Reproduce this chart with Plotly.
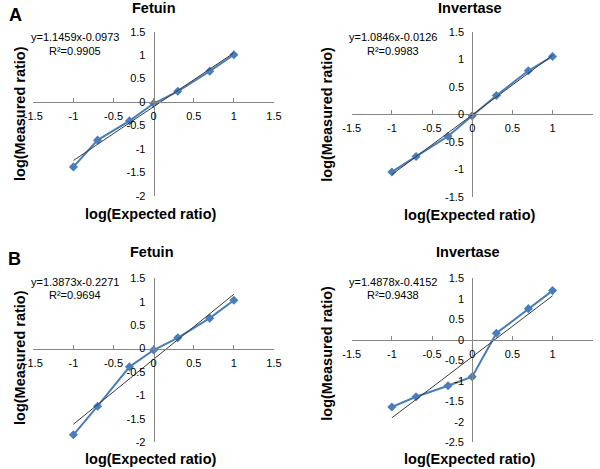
import plotly.graph_objects as go

W, H = 600, 469

# x values: log10 of expected ratios
expected_log = [-1, -0.699, -0.301, 0, 0.301, 0.699, 1]

fetuin_A = [-1.38, -0.81, -0.40, -0.03, 0.23, 0.66, 1.01]
invertase_A = [-1.05, -0.77, -0.40, -0.03, 0.34, 0.79, 1.05]
fetuin_B = [-1.84, -1.23, -0.39, -0.03, 0.23, 0.65, 1.03]
invertase_B = [-1.64, -1.39, -1.12, -0.90, 0.16, 0.76, 1.20]

slopes = [1.1459, 1.0846, 1.3873, 1.4878]
intercepts = [-0.0973, -0.0126, -0.2271, -0.4152]
eq_labels = ["y=1.1459x-0.0973", "y=1.0846x-0.0126", "y=1.3873x-0.2271", "y=1.4878x-0.4152"]
r2_labels = ["R²=0.9905", "R²=0.9983", "R²=0.9694", "R²=0.9438"]
titles = ["Fetuin", "Invertase", "Fetuin", "Invertase"]

x_tick_vals = [-1.5, -1, -0.5, 0, 0.5, 1, 1.5]
x_tick_text = ["-1.5", "-1", "-0.5", "0", "0.5", "1", "1.5"]
y_tick_vals = [[-2, -1.5, -1, -0.5, 0, 0.5, 1, 1.5],
               [-1.5, -1, -0.5, 0, 0.5, 1, 1.5],
               [-2, -1.5, -1, -0.5, 0, 0.5, 1, 1.5],
               [-2.5, -2, -1.5, -1, -0.5, 0, 0.5, 1, 1.5]]
y_ranges = [[-2, 1.5], [-1.5, 1.5], [-2, 1.5], [-2.5, 1.5]]
x_range = [-1.5, 1.5]

series = [fetuin_A, invertase_A, fetuin_B, invertase_B]

# panel geometry in pixels: (x_left, x_right, y_top, y_bottom)
boxes = [(33.3, 274.0, 31.7, 196.0),
         (351.7, 592.7, 31.7, 196.7),
         (33.3, 274.0, 278.3, 442.3),
         (351.7, 592.7, 278.3, 442.3)]

BLUE = "#4A7EBB"
AXIS = "#868686"
FONT = "Liberation Sans, Arial, sans-serif"

def fmt(v):
    return "%g" % v

fig = go.Figure()
layout = dict(width=W, height=H, margin=dict(l=0, r=0, t=0, b=0, autoexpand=False),
              paper_bgcolor="white", plot_bgcolor="white", showlegend=False,
              font=dict(family=FONT, color="black"))
annotations = []

def px2fx(px):
    return px / W

def py2fy(py):
    return 1 - py / H

for i in range(4):
    xl, xr, yt, yb = boxes[i]
    ymin, ymax = y_ranges[i]
    sfx = "" if i == 0 else str(i + 1)
    xa, ya = "x" + sfx, "y" + sfx
    x0_px = xl + (0 - x_range[0]) / (x_range[1] - x_range[0]) * (xr - xl)
    y0_px = yt + (ymax - 0) / (ymax - ymin) * (yb - yt)

    fig.add_trace(go.Scatter(x=expected_log, y=series[i], mode="lines+markers",
                             line=dict(color=BLUE, width=2),
                             marker=dict(symbol="diamond", size=7, color=BLUE),
                             xaxis=xa, yaxis=ya, hoverinfo="skip"))
    tx = [expected_log[0], expected_log[-1]]
    ty = [slopes[i] * v + intercepts[i] for v in tx]
    fig.add_trace(go.Scatter(x=tx, y=ty, mode="lines",
                             line=dict(color="#3A3A3A", width=1),
                             xaxis=xa, yaxis=ya, hoverinfo="skip"))

    layout["xaxis" + sfx] = dict(domain=[px2fx(xl), px2fx(xr)], range=x_range,
                                 anchor="free", position=py2fy(y0_px), automargin=False,
                                 tickmode="array", tickvals=x_tick_vals, ticktext=x_tick_text,
                                 showgrid=False, zeroline=False,
                                 showline=True, linecolor=AXIS, linewidth=1,
                                 ticks="inside", ticklen=4, tickwidth=1, tickcolor=AXIS,
                                 ticklabelstandoff=4,
                                 tickfont=dict(size=11, family=FONT, color="black"))
    layout["yaxis" + sfx] = dict(domain=[py2fy(yb), py2fy(yt)], range=[ymin, ymax],
                                 anchor="free", position=px2fx(x0_px), automargin=False,
                                 tickmode="array", tickvals=y_tick_vals[i],
                                 ticktext=[fmt(v) for v in y_tick_vals[i]],
                                 showgrid=False, zeroline=False,
                                 showline=True, linecolor=AXIS, linewidth=1,
                                 ticks="", ticklabelstandoff=6,
                                 tickfont=dict(size=11, family=FONT, color="black"))

# text positions (pixels)
title_pos = [(153.5, 8.5), (470, 8.5), (151.7, 252.5), (468, 252.5)]
eq_pos = [(75, 37.3), (392.5, 37.3), (75, 281.7), (392.5, 281.7)]
r2_pos = [(75, 50.5), (392.5, 50.5), (75, 295), (392.5, 295)]
xt_pos = [(150.5, 213.5), (469, 215), (150.5, 459), (469, 459)]
yt_pos = [(20, 114), (326.7, 114), (20, 358), (326.7, 353)]

def ann(text, x, y, size, bold=False, angle=0):
    return dict(text=("<b>%s</b>" % text) if bold else text,
                x=px2fx(x), y=py2fy(y), xref="paper", yref="paper",
                xanchor="center", yanchor="middle", showarrow=False,
                textangle=angle, font=dict(size=size, family=FONT, color="black"))

for i in range(4):
    annotations.append(ann(titles[i], *title_pos[i], 14.5, bold=True))
    annotations.append(ann(eq_labels[i], *eq_pos[i], 11))
    annotations.append(ann(r2_labels[i], *r2_pos[i], 11))
    annotations.append(ann("log(Expected ratio)", *xt_pos[i], 14.5, bold=True))
    annotations.append(ann("log(Measured ratio)", *yt_pos[i], 14.5, bold=True, angle=-90))

annotations.append(ann("A", 15, 15, 18, bold=True))
annotations.append(ann("B", 14.5, 259, 18, bold=True))

layout["annotations"] = annotations
fig.update_layout(**layout)
fig.write_html("out.html", config={"displayModeBar": False},
               post_script="document.body.style.margin='0';document.body.style.overflow='hidden';")
